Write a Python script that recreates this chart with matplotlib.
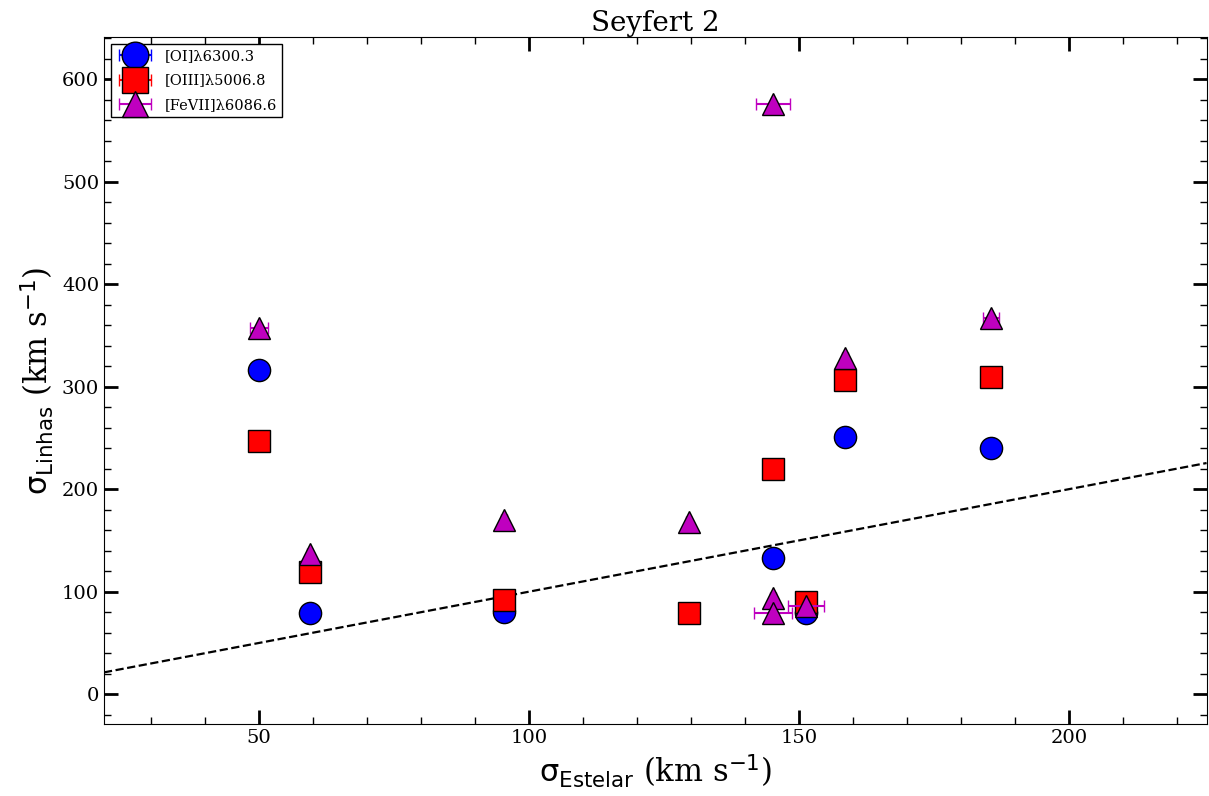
import matplotlib
matplotlib.use('Agg')
import matplotlib.pyplot as plt
from matplotlib.ticker import MultipleLocator
from matplotlib.legend_handler import HandlerErrorbar
from matplotlib.container import ErrorbarContainer

# sigma estelar vs sigma das linhas (km/s)
oi_x = [50.0, 59.4, 95.4, 145.2, 151.3, 158.5, 185.6]
oi_y = [316, 79, 80, 133, 79, 251, 240]
oi_xerr = [0.5, 0.5, 0.5, 0.5, 0.5, 0.5, 0.5]

oiii_x = [50.0, 59.4, 95.4, 129.6, 145.2, 151.3, 158.5, 185.6]
oiii_y = [247, 119, 92, 79, 220, 90, 306, 309]
oiii_xerr = [0.5, 0.5, 0.5, 0.5, 0.5, 0.5, 0.5, 0.5]

fevii_x = [50.0, 59.4, 95.4, 129.6, 145.2, 145.2, 145.2, 151.3, 158.5, 185.6]
fevii_y = [357, 137, 170, 168, 576, 94, 79, 86, 328, 367]
fevii_xerr = [1.6, 0.5, 0.5, 0.5, 3.1, 0.5, 3.5, 3.3, 0.5, 1.5]

labels = ['[OI]λ6300.3', '[OIII]λ5006.8', '[FeVII]λ6086.6']

plt.rcParams['font.family'] = ['DejaVu Serif']
plt.rcParams['mathtext.default'] = 'rm'

fig = plt.figure(figsize=(12.09, 7.96), dpi=100)
ax = fig.add_axes([0.086, 0.0905, 0.912, 0.863])

xlim = (21.3, 225.5)
ylim = (-29, 641)

# linha 1:1
ax.plot(xlim, xlim, 'k--', lw=1.6, zorder=1)

ax.errorbar(oi_x, oi_y, xerr=oi_xerr, fmt='o', color='b', ecolor='b', ms=16,
            mec='k', mew=1, capsize=4, elinewidth=1.5, label=labels[0], zorder=2)
ax.errorbar(oiii_x, oiii_y, xerr=oiii_xerr, fmt='s', color='r', ecolor='r', ms=16,
            mec='k', mew=1, capsize=4, elinewidth=1.5, label=labels[1], zorder=3)
ax.errorbar(fevii_x, fevii_y, xerr=fevii_xerr, fmt='^', color='m', ecolor='m', ms=16,
            mec='k', mew=1, capsize=4, elinewidth=1.5, label=labels[2], zorder=4)

ax.set_xlim(*xlim)
ax.set_ylim(*ylim)

ax.xaxis.set_major_locator(MultipleLocator(50))
ax.xaxis.set_minor_locator(MultipleLocator(10))
ax.yaxis.set_major_locator(MultipleLocator(100))
ax.yaxis.set_minor_locator(MultipleLocator(20))
ax.tick_params(which='both', direction='in', top=True, right=True, labelsize=14)
ax.tick_params(which='major', length=10, width=2)
ax.tick_params(which='minor', length=5, width=1)

ax.set_title('Seyfert 2', fontsize=20, pad=4)
ax.set_xlabel(r'$\sigma_{Estelar}$ (km s$^{-1}$)', fontsize=22)
ax.set_ylabel(r'$\sigma_{Linhas}$ (km s$^{-1}$)', fontsize=22)

ax.legend(loc='upper left', fontsize=10.5, fancybox=False, framealpha=1,
          edgecolor='k', handlelength=2.6, borderpad=0.3, labelspacing=0.75,
          markerscale=1.2,
          handler_map={ErrorbarContainer: HandlerErrorbar(xerr_size=1.1)})

plt.savefig('out.png', dpi=100)
